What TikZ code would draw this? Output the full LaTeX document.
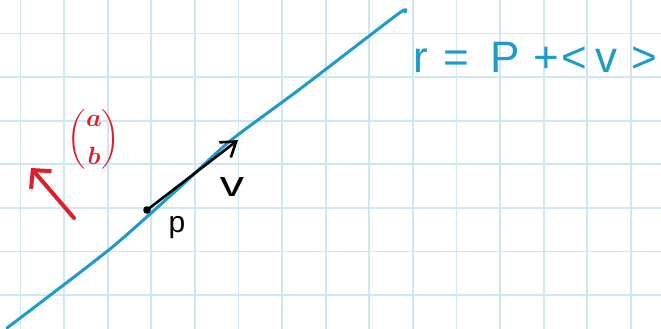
\documentclass[tikz,border=0pt]{standalone}
\usepackage{amsmath}
\usepackage{graphicx}
\usepackage{fontspec}
\setmainfont{Liberation Sans}
\usetikzlibrary{arrows.meta}
\definecolor{gridc}{RGB}{208,230,243}
\definecolor{penblue}{RGB}{30,155,205}
\definecolor{penred}{RGB}{222,30,40}
\begin{document}
\begin{tikzpicture}[x=1pt,y=-1pt,
  gridline/.style={draw=gridc,line width=1.8pt},
  blueline/.style={draw=penblue,line width=3pt,line cap=round,line join=round},
  blacktext/.style={text=black,inner sep=0pt},
  bluetext/.style={text=penblue,inner sep=0pt},
  redtext/.style={text=penred,inner sep=0pt},
  vecarrow/.style={draw=black,line width=2.6pt,line cap=round,
    -{Straight Barb[length=14pt,width=19pt,line width=2.6pt]}},
  redarrow/.style={draw=penred,line width=4pt,line cap=round,
    -{Straight Barb[length=13pt,width=27pt,line width=4pt]}}]
\fill[white] (0,0) rectangle (661,329);
\useasboundingbox (0,0) rectangle (661,329);
% grid
\foreach \i in {0,...,14} {\draw[gridline] ({20.5+43.6*\i},0) -- ({20.5+43.6*\i},329);}
\foreach \j in {0,...,6} {\draw[gridline] (0,{33.5+43.6*\j}) -- (661,{33.5+43.6*\j});}
% blue line
\draw[blueline] plot[smooth,tension=0.4] coordinates {(7,328) (110,249) (180,187) (230,141) (300,89) (398,14) (405,12)};
% point and vector
\coordinate (ptail) at (147,210);
\coordinate (ptip) at (238,140);
\fill[black] (ptail) circle (3.8);
\draw[vecarrow] (ptail) -- (ptip);
\node[blacktext,font=\fontsize{30}{30}\selectfont] (plabel) at (177,228) {p};
\node[blacktext,font=\fontsize{36}{36}\selectfont] (vlabel) at (232,187) {\scalebox{1.35}[1]{v}};
% red normal
\coordinate (rtail) at (74,218);
\coordinate (rtip) at (31,168);
\draw[redarrow] (rtail) -- (rtip);
\node[redtext,font=\fontsize{26}{26}\selectfont\boldmath] (ab) at (94,139) {$\displaystyle\binom{a}{b}$};
% equation
\node[bluetext,anchor=west,font=\fontsize{44}{44}\selectfont] (eq) at (413,57) {r\hspace{0.35em}=\hspace{0.5em}P\hspace{0.3em}+\hspace{0.05em}<\hspace{0.2em}v\hspace{0.3em}>};
\end{tikzpicture}
\end{document}
